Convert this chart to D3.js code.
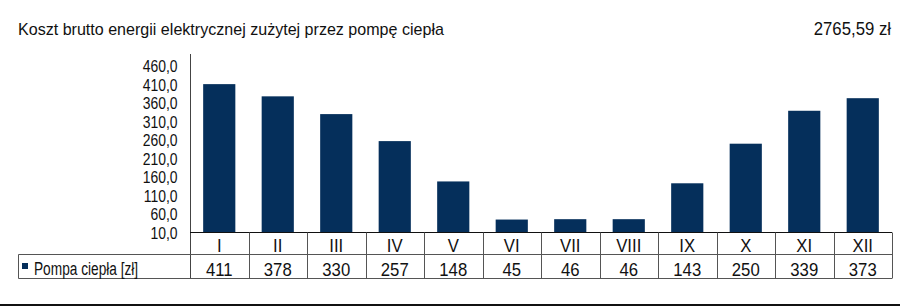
<!DOCTYPE html>
<html>
<head>
<meta charset="utf-8">
<title>Koszt brutto energii</title>
<style>
body { margin: 0; background: #fff; }
svg text { font-family: 'Liberation Sans', Arial, sans-serif; fill: #111; }
.title { font-size: 17px; }
.tick text { font-size: 16px; }
.cell { font-size: 19px; text-anchor: middle; }
.grid line { stroke: #555; stroke-width: 1; }
</style>
</head>
<body>
<svg width="900" height="306"></svg>
<script src="https://d3js.org/d3.v7.min.js"></script>
<script>
var months = ["I", "II", "III", "IV", "V", "VI", "VII", "VIII", "IX", "X", "XI", "XII"];
var values = [411, 378, 330, 257, 148, 45, 46, 46, 143, 250, 339, 373];
var yTicks = [10, 60, 110, 160, 210, 260, 310, 360, 410, 460];
var seriesName = "Pompa ciepła [zł]";
var total = "2765,59 zł";

var svg = d3.select("svg");
var plotLeft = 190, plotRight = 892, base = 232.5, plotTop = 66;
var row1 = 254.5, row2 = 278.5, legLeft = 18.5;

var x = d3.scaleBand().domain(months).range([plotLeft, plotRight]).paddingInner(0.45).paddingOuter(0.225);
var xb = d3.scaleBand().domain(months).range([plotLeft, plotRight]);
var y = d3.scaleLinear().domain([10, 460]).range([base, plotTop]);

// narrow font look: squeeze the wide fallback font
function squeeze(sel, factor) {
  sel.each(function() {
    var w = this.getComputedTextLength();
    d3.select(this).attr("textLength", w * factor).attr("lengthAdjust", "spacingAndGlyphs");
  });
}

svg.append("text").attr("class", "title").attr("x", 18).attr("y", 35)
  .text("Koszt brutto energii elektrycznej zużytej przez pompę ciepła")
  .call(squeeze, 0.945);
svg.append("text").attr("class", "title").attr("x", 891).attr("y", 35).attr("text-anchor", "end")
  .style("font-size", "18px")
  .text(total).call(squeeze, 0.93);

// bars
svg.append("g").selectAll("rect")
  .data(values)
  .enter().append("rect")
  .attr("x", function(d, i) { return x(months[i]); })
  .attr("y", function(d) { return y(d); })
  .attr("width", x.bandwidth())
  .attr("height", function(d) { return base - y(d); })
  .attr("fill", "#052f5b");

// y axis
var yAxis = svg.append("g")
  .attr("transform", "translate(" + (plotLeft + 0.5) + ",0)")
  .call(d3.axisLeft(y).tickValues(yTicks).tickSize(0).tickPadding(13)
    .tickFormat(function(d) { return d3.format(".1f")(d).replace(".", ","); }));
yAxis.select(".domain").attr("d", "M0,54V" + row2).attr("stroke", "#444");
yAxis.selectAll(".tick text").attr("fill", "#111").attr("dy", "0.36em")
  .style("font-family", "'Liberation Sans', Arial, sans-serif").call(squeeze, 0.87);

// table grid
var grid = svg.append("g").attr("class", "grid");
grid.append("line").attr("x1", plotLeft).attr("x2", plotRight).attr("y1", base).attr("y2", base).style("stroke", "#111");
grid.append("line").attr("x1", legLeft).attr("x2", plotRight).attr("y1", row1).attr("y2", row1);
grid.append("line").attr("x1", legLeft).attr("x2", plotRight).attr("y1", row2).attr("y2", row2);
grid.append("line").attr("x1", legLeft).attr("x2", legLeft).attr("y1", row1).attr("y2", row2);
grid.selectAll(".v").data(months).enter().append("line")
  .attr("x1", function(d) { return Math.round(xb(d) + xb.bandwidth()) + 0.5; })
  .attr("x2", function(d) { return Math.round(xb(d) + xb.bandwidth()) + 0.5; })
  .attr("y1", base).attr("y2", row2);

// category labels and values
svg.append("g").selectAll("text").data(months).enter().append("text")
  .attr("class", "cell")
  .attr("x", function(d) { return xb(d) + xb.bandwidth() / 2; })
  .attr("y", 252)
  .text(function(d) { return d; })
  .call(squeeze, 0.88);
svg.append("g").selectAll("text").data(values).enter().append("text")
  .attr("class", "cell")
  .attr("x", function(d, i) { return xb(months[i]) + xb.bandwidth() / 2; })
  .attr("y", 275.5)
  .text(function(d) { return d; })
  .call(squeeze, 0.88);

// legend
svg.append("rect").attr("x", 22).attr("y", 263).attr("width", 6).attr("height", 6).attr("fill", "#052f5b");
svg.append("text").attr("x", 34).attr("y", 274.5).style("font-size", "18px").text(seriesName).call(squeeze, 0.76);

// bottom rule
svg.append("line").attr("x1", 0).attr("x2", 900).attr("y1", 305).attr("y2", 305).attr("stroke", "#111").attr("stroke-width", 2);
</script>
</body>
</html>
